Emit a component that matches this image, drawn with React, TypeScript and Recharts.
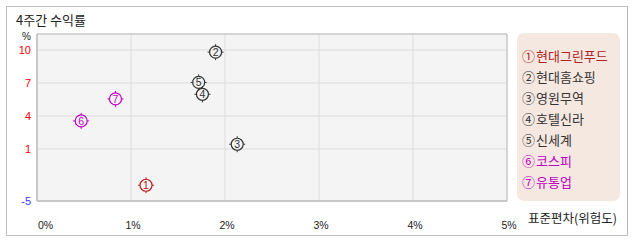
import React from 'react';
import { ScatterChart, Scatter, XAxis, YAxis, CartesianGrid, ReferenceArea, Legend } from 'recharts';

const companies = ['현대그린푸드', '현대홈쇼핑', '영원무역', '호텔신라', '신세계', '코스피', '유통업'];
const markers = ['①', '②', '③', '④', '⑤', '⑥', '⑦'];
const numbers = ['1', '2', '3', '4', '5', '6', '7'];
const riskValues = [1.16, 1.9, 2.13, 1.76, 1.72, 0.47, 0.835];
const returnValues = [-2.3, 9.8, 1.43, 5.97, 7.05, 3.55, 5.55];
const colors = ['#b22222', '#333333', '#333333', '#333333', '#333333', '#c000c0', '#c000c0'];

const xTicks = [0, 1, 2, 3, 4, 5];
const xTickLabels = ['0%', '1%', '2%', '3%', '4%', '5%'];
const yTicks = [-3.73, 1, 4, 7, 10];
const yTickLabels = ['-5', '1', '4', '7', '10'];
const yDomain: [number, number] = [-3.73, 11.45];

const FONT = '"Noto Sans CJK KR", "Liberation Sans", sans-serif';
const NUMFONT = '"Liberation Sans", Arial, sans-serif';

const series = companies.map((name, i) => ({
  name,
  marker: markers[i],
  num: numbers[i],
  color: colors[i],
  data: [{ x: riskValues[i], y: returnValues[i] }],
}));

const MarkerShape = (color: string, num: string) => (props: any) => {
  const { cx, cy } = props;
  if (cx == null || cy == null) return null;
  const r = 6;
  return (
    <g>
      <circle cx={cx} cy={cy} r={r} fill="none" stroke={color} strokeWidth={1.2} />
      <line x1={cx} y1={cy - r} x2={cx} y2={cy - r - 2} stroke={color} strokeWidth={1} />
      <line x1={cx} y1={cy + r} x2={cx} y2={cy + r + 2} stroke={color} strokeWidth={1} />
      <line x1={cx - r} y1={cy} x2={cx - r - 2} y2={cy} stroke={color} strokeWidth={1} />
      <line x1={cx + r} y1={cy} x2={cx + r + 2} y2={cy} stroke={color} strokeWidth={1} />
      <text x={cx} y={cy + 3.7} textAnchor="middle" fontSize={10.5} fontFamily={NUMFONT} fill={color}>
        {num}
      </text>
    </g>
  );
};

const XTick = (props: any) => {
  const { x, y, payload } = props;
  const idx = xTicks.indexOf(payload.value);
  const first = payload.value === 0;
  return (
    <text
      x={first ? x + 1 : x + 2}
      y={y + 20}
      textAnchor={first ? 'start' : 'middle'}
      fontSize={10.5}
      fontFamily={NUMFONT}
      fill="#222"
    >
      {xTickLabels[idx]}
    </text>
  );
};

const YTick = (props: any) => {
  const { x, y, payload } = props;
  const idx = yTicks.indexOf(payload.value);
  const neg = payload.value < 0;
  return (
    <text x={x} y={y + 4} textAnchor="end" fontSize={11} fontFamily={NUMFONT} fill={neg ? '#3b3bff' : '#ff0000'}>
      {yTickLabels[idx]}
    </text>
  );
};

const LegendContent = () => (
  <div
    style={{
      width: 103,
      height: 168,
      background: '#f5e8e1',
      borderRadius: 7,
      boxSizing: 'border-box',
      paddingTop: 12,
      paddingLeft: 5,
      fontFamily: FONT,
      fontSize: 13,
    }}
  >
    {series.map((s) => (
      <div key={s.name} style={{ color: s.color, height: 21, lineHeight: '21px', whiteSpace: 'nowrap' }}>
        {s.marker}
        <span style={{ marginLeft: 1 }}>{s.name}</span>
      </div>
    ))}
  </div>
);

export default function App() {
  return (
    <div style={{ position: 'absolute', left: 0, top: 0, width: 638, height: 242, background: '#fff' }}>
      <div
        style={{
          position: 'absolute',
          left: 6,
          top: 6,
          width: 620,
          height: 228,
          border: '1px solid #bdbdbd',
        }}
      />
      <div
        style={{
          position: 'absolute',
          left: 16,
          top: 12,
          fontFamily: FONT,
          fontSize: 13,
          color: '#222',
          lineHeight: '16px',
          whiteSpace: 'nowrap',
        }}
      >
        4주간 수익률
      </div>
      <div
        style={{
          position: 'absolute',
          left: 22,
          top: 31,
          fontFamily: NUMFONT,
          fontSize: 10,
          color: '#222',
          lineHeight: '12px',
        }}
      >
        %
      </div>
      <div
        style={{
          position: 'absolute',
          left: 528,
          top: 210,
          fontFamily: FONT,
          fontSize: 12.5,
          color: '#222',
          lineHeight: '16px',
          whiteSpace: 'nowrap',
        }}
      >
        표준편차(위험도)
      </div>
      <div style={{ position: 'absolute', left: 0, top: 0 }}>
        <ScatterChart width={638} height={242} margin={{ top: 34, right: 28, bottom: 21, left: 7 }}>
          <CartesianGrid fill="#f4f4f4" stroke="#dcdcdc" strokeWidth={1} />
          <ReferenceArea
            x1={0}
            x2={5}
            y1={yDomain[0]}
            y2={yDomain[1]}
            fill="none"
            stroke="#bdbdbd"
            strokeWidth={1}
            ifOverflow="extendDomain"
          />
          <XAxis
            type="number"
            dataKey="x"
            domain={[0, 5]}
            ticks={xTicks}
            tick={<XTick />}
            tickLine={false}
            axisLine={{ stroke: '#bdbdbd' }}
            height={20}
            allowDataOverflow
          />
          <YAxis
            type="number"
            dataKey="y"
            domain={yDomain}
            ticks={yTicks}
            tick={<YTick />}
            tickLine={false}
            tickSize={0}
            tickMargin={6}
            axisLine={{ stroke: '#bdbdbd' }}
            width={30}
            allowDataOverflow
          />
          <Legend
            layout="vertical"
            align="right"
            verticalAlign="top"
            content={<LegendContent />}
            wrapperStyle={{ left: 517, top: 33, width: 103, height: 168 }}
          />
          {series.map((s) => (
            <Scatter
              key={s.name}
              name={s.name}
              data={s.data}
              fill={s.color}
              shape={MarkerShape(s.color, s.num)}
              isAnimationActive={false}
            />
          ))}
        </ScatterChart>
      </div>
    </div>
  );
}
